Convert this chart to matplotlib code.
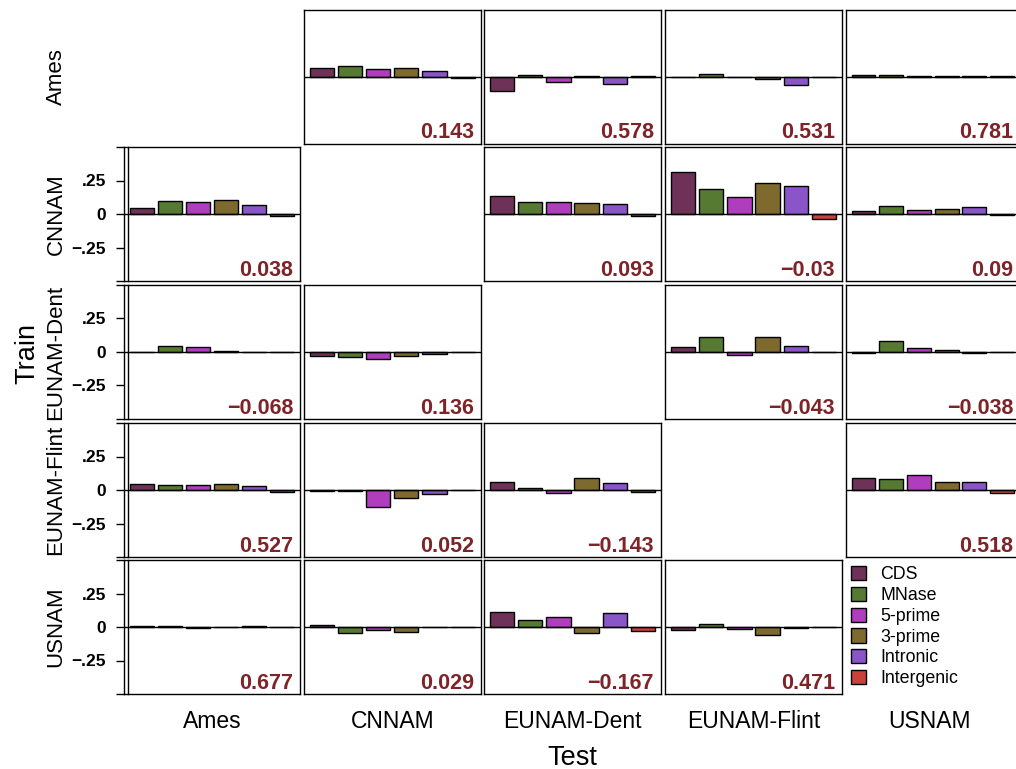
import matplotlib
matplotlib.use("Agg")
import matplotlib.pyplot as plt
from matplotlib.patches import Patch
from matplotlib.transforms import offset_copy

plt.rcParams['font.family'] = ['Liberation Sans', 'DejaVu Sans']

pops = ["Ames", "CNNAM", "EUNAM-Dent", "EUNAM-Flint", "USNAM"]
features = ["CDS", "MNase", "5-prime", "3-prime", "Intronic", "Intergenic"]
colors = ["#6E3259", "#577A33", "#B03CBE", "#7E6A2E", "#8955C8", "#C8413A"]

# bar heights per training population, one list per test population (None = same population)
ames_bars = [None,
             [0.06, 0.075, 0.053, 0.06, 0.042, -0.012],
             [-0.105, 0.008, -0.038, 0.003, -0.053, 0.002],
             [-0.003, 0.022, 0.0, -0.018, -0.06, 0.0],
             [0.01, 0.012, 0.003, 0.002, 0.004, 0.003]]
cnnam_bars = [[0.048, 0.099, 0.089, 0.108, 0.068, -0.018],
              None,
              [0.136, 0.09, 0.09, 0.083, 0.075, -0.015],
              [0.316, 0.184, 0.124, 0.235, 0.212, -0.035],
              [0.023, 0.06, 0.027, 0.038, 0.053, -0.01]]
dent_bars = [[0.002, 0.045, 0.038, 0.008, 0.003, -0.002],
             [-0.03, -0.038, -0.053, -0.03, -0.012, 0.003],
             None,
             [0.035, 0.114, -0.022, 0.114, 0.045, 0.0],
             [-0.005, 0.083, 0.033, 0.015, -0.008, 0.0]]
flint_bars = [[0.042, 0.04, 0.04, 0.046, 0.03, -0.015],
              [-0.006, -0.008, -0.13, -0.061, -0.03, 0.0],
              [0.057, 0.012, -0.02, 0.087, 0.053, -0.012],
              None,
              [0.09, 0.08, 0.113, 0.057, 0.06, -0.023]]
usnam_bars = [[0.004, 0.005, -0.004, -0.003, 0.004, -0.003],
              [0.012, -0.045, -0.023, -0.035, 0.002, 0.003],
              [0.11, 0.05, 0.072, -0.045, 0.105, -0.027],
              [-0.022, 0.022, -0.018, -0.062, -0.008, 0.002],
              None]

# overall prediction accuracy printed in each panel
ames_r = [None, 0.143, 0.578, 0.531, 0.781]
cnnam_r = [0.038, None, 0.093, -0.03, 0.09]
dent_r = [-0.068, 0.136, None, -0.043, -0.038]
flint_r = [0.527, 0.052, -0.143, None, 0.518]
usnam_r = [0.677, 0.029, -0.167, 0.471, None]

all_bars = [ames_bars, cnnam_bars, dent_bars, flint_bars, usnam_bars]
all_r = [ames_r, cnnam_r, dent_r, flint_r, usnam_r]

yticks = [-0.25, 0, 0.25]
ytick_labels = ["\u2212.25", "0", ".25"]

W, H = 1016, 769
fig = plt.figure(figsize=(W / 100, H / 100), dpi=100)

# panel edges in pixels
col_left = [124, 303.5, 484, 665, 845.5]
col_right = [300, 481, 661, 842, 1020]
row_top = [9.5, 147, 285, 423, 560]
row_h = 134

num_color = "#7E2428"


def fmt(v):
    s = f"{v:.3f}".rstrip("0")
    return s.replace("-", "\u2212")


for i in range(5):
    for j in range(5):
        vals = all_bars[i][j]
        if vals is None:
            continue
        l, r = col_left[j], col_right[j]
        b = row_top[i] + row_h
        ax = fig.add_axes([l / W, 1 - b / H, (r - l) / W, row_h / H])
        ax.bar(range(6), vals, width=0.86, color=colors,
               edgecolor="black", linewidth=1.0, zorder=2)
        ax.axhline(0, color="black", lw=1.0, zorder=3)
        ax.set_xlim(-0.65, 5.65)
        ax.set_ylim(-0.5, 0.5)
        ax.set_xticks([])
        for sp in ax.spines.values():
            sp.set_linewidth(1.0)
        if j == 0:
            ax.set_yticks([-0.5] + yticks + [0.5])
            ax.set_yticklabels([""] + ytick_labels + [""],
                               fontsize=12.5, fontweight="bold")
            ax.tick_params(axis="y", length=6, width=1.0, pad=7)
            # inner border of the panel, just right of the axis line
            tr = offset_copy(ax.transAxes, fig=fig, x=4, y=0, units="dots")
            ax.plot([0, 0], [0, 1], color="black", lw=1.0,
                    transform=tr, clip_on=False)
        else:
            ax.set_yticks([])
        tr = offset_copy(ax.transAxes, fig=fig, x=-7, y=5, units="dots")
        ax.text(1, 0, fmt(all_r[i][j]), transform=tr, ha="right",
                va="baseline", fontsize=15.5, fontweight="bold",
                color=num_color)

# test population names under the columns
for j, name in enumerate(pops):
    xc = (col_left[j] + col_right[j]) / 2
    if j == 4:
        xc = 930
    fig.text(xc / W, 1 - 728 / H, name, ha="center", va="baseline",
             fontsize=16.5)

# training population names beside the rows
for i, name in enumerate(pops):
    yc = row_top[i] + row_h / 2
    fig.text(56 / W, 1 - yc / H, name, ha="center", va="center",
             rotation=90, fontsize=16)

fig.text(572 / W, 1 - 765 / H, "Test", ha="center", va="baseline",
         fontsize=19.5)
fig.text(27 / W, 1 - 353 / H, "Train", ha="center", va="center",
         rotation=90, fontsize=19.5)

handles = [Patch(facecolor=c, edgecolor="black", linewidth=1.0) for c in colors]
fig.legend(handles, features, loc="upper left",
           bbox_to_anchor=(851 / W, 1 - 566 / H), frameon=False,
           fontsize=12.8, handlelength=0.85, handleheight=0.85,
           handletextpad=0.8, labelspacing=0.2, borderpad=0,
           borderaxespad=0)

fig.savefig("out.png", dpi=100)
